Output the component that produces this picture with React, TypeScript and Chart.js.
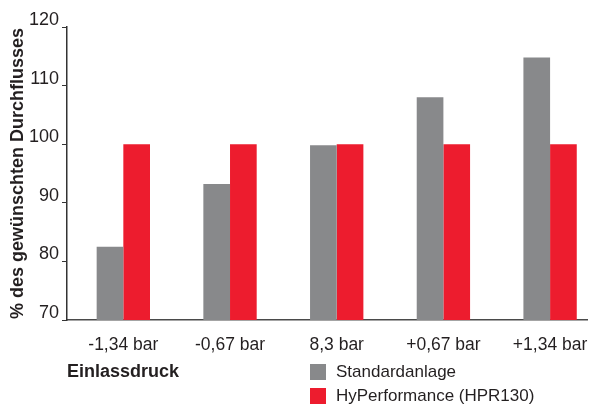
import React, { useEffect, useRef } from "react";
import { Chart, registerables } from "chart.js";

Chart.register(...registerables);

const categories = ["-1,34 bar", "-0,67 bar", "8,3 bar", "+0,67 bar", "+1,34 bar"];
const standardValues = [82.5, 93.2, 99.8, 108, 114.8];
const hyPerformanceValues = [100, 100, 100, 100, 100];
const seriesNames = ["Standardanlage", "HyPerformance (HPR130)"];
const seriesColors = ["#88898b", "#ed1c2e"];
const yTitle = "% des gewünschten Durchflusses";
const xTitle = "Einlassdruck";

const FONT = "'Liberation Sans', Arial, Helvetica, sans-serif";
const TEXT = "#231f20";

export default function App() {
  const ref = useRef<HTMLCanvasElement | null>(null);

  useEffect(() => {
    if (!ref.current) return;
    const chart = new Chart(ref.current, {
      type: "bar",
      data: {
        datasets: [
          {
            label: seriesNames[0],
            data: standardValues.map((v, i) => ({ x: i, y: v })),
            backgroundColor: seriesColors[0],
            categoryPercentage: 0.5,
            barPercentage: 1,
          },
          {
            label: seriesNames[1],
            data: hyPerformanceValues.map((v, i) => ({ x: i, y: v })),
            backgroundColor: seriesColors[1],
            categoryPercentage: 0.5,
            barPercentage: 1,
          },
        ],
      },
      options: {
        responsive: false,
        animation: false,
        layout: { padding: { left: 0, right: 11, top: 27, bottom: 0 } },
        plugins: {
          legend: { display: false },
          tooltip: { enabled: false },
        },
        scales: {
          x: {
            type: "linear",
            offset: false,
            min: -0.528,
            max: 4.346,
            grid: { display: false, drawTicks: false, offset: false },
            border: { display: true, color: "#4a4a4a", width: 1.5 },
            ticks: {
              stepSize: 1,
              includeBounds: false,
              autoSkip: false,
              maxRotation: 0,
              padding: 15,
              color: TEXT,
              font: { family: FONT, size: 17.5 },
              callback: (v: any) =>
                Number.isInteger(v) && categories[v] !== undefined ? categories[v] : "",
            },
            title: {
              display: true,
              text: xTitle,
              align: "start",
              color: TEXT,
              font: { family: FONT, size: 18, weight: "bold" },
              padding: { top: 0, bottom: 22 },
            },
            afterFit: (s: any) => {
              s.height = 85;
              s.paddingLeft = 0;
              s.paddingRight = 0;
            },
          },
          y: {
            min: 70,
            max: 120,
            grid: {
              display: true,
              drawOnChartArea: false,
              drawTicks: true,
              tickLength: 5,
              color: "#333",
            },
            border: { display: true, color: "#333", width: 1.5 },
            ticks: {
              stepSize: 10,
              padding: 3,
              labelOffset: -7,
              color: TEXT,
              font: { family: FONT, size: 18 },
            },
            title: {
              display: true,
              text: yTitle,
              color: TEXT,
              font: { family: FONT, size: 18, weight: "bold" },
              padding: { top: 7, bottom: 0 },
            },
            afterFit: (s: any) => {
              s.width = 67;
              s.paddingTop = 0;
              s.paddingBottom = 0;
            },
          },
        },
      },
    });
    return () => chart.destroy();
  }, []);

  const legendItem = (i: number, top: number) => (
    <div
      key={i}
      style={{
        position: "absolute",
        left: 310,
        top,
        height: 16,
        display: "flex",
        alignItems: "center",
        whiteSpace: "nowrap",
      }}
    >
      <div style={{ width: 16, height: 16, background: seriesColors[i] }} />
      <span
        style={{
          marginLeft: 10,
          fontFamily: FONT,
          fontSize: 17,
          color: TEXT,
          lineHeight: "16px",
        }}
      >
        {seriesNames[i]}
      </span>
    </div>
  );

  return (
    <div
      style={{
        position: "absolute",
        left: 0,
        top: 0,
        width: 598,
        height: 405,
        overflow: "hidden",
        background: "#fff",
      }}
    >
      <canvas ref={ref} width={598} height={405} style={{ display: "block" }} />
      {legendItem(0, 364)}
      {legendItem(1, 388)}
    </div>
  );
}
